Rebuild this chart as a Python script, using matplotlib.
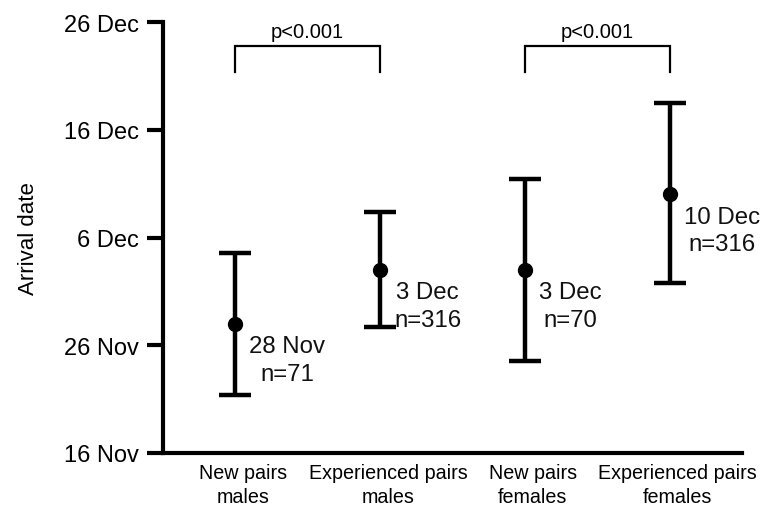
import matplotlib
matplotlib.use("Agg")
import matplotlib.pyplot as plt
import matplotlib.transforms as mtransforms

plt.rcParams['font.family'] = ['Liberation Sans', 'DejaVu Sans']

# ---- data (days after 16 Nov) ----
categories = ["New pairs\nmales", "Experienced pairs\nmales",
              "New pairs\nfemales", "Experienced pairs\nfemales"]
mean_day = [12, 17, 17, 24]
lower_day = [5.4, 11.7, 8.5, 15.8]
upper_day = [18.6, 22.4, 25.4, 32.5]
point_labels = ["28 Nov\nn=71", "3 Dec\nn=316", "3 Dec\nn=70", "10 Dec\nn=316"]
ytick_days = [0, 10, 20, 30, 40]
ytick_labels = ["16 Nov", "26 Nov", "6 Dec", "16 Dec", "26 Dec"]
comparisons = [(0, 1), (2, 3)]
comparison_text = ["p<0.001", "p<0.001"]
bracket_low, bracket_high = 35.4, 37.75

fig = plt.figure(figsize=(7.6, 5.06), dpi=100)
ax = fig.add_axes([163/760, 1-454/506, 579/760, 431/506])

x = list(range(len(categories)))
yerr = [[m - l for m, l in zip(mean_day, lower_day)],
        [u - m for m, u in zip(mean_day, upper_day)]]
ax.errorbar(x, mean_day, yerr=yerr, fmt='o', color='black', ms=10,
            elinewidth=3.2, capsize=11.5, capthick=3.2)

for xi, m, txt in zip(x, mean_day, point_labels):
    ax.annotate(txt, xy=(xi, m), xytext=(10, -26), textcoords='offset points',
                ha='left', va='center', multialignment='center',
                fontsize=17.3, linespacing=1.35, color='#111111')

for (a, b), txt in zip(comparisons, comparison_text):
    ax.plot([a, a, b, b], [bracket_low, bracket_high, bracket_high, bracket_low],
            color='black', lw=1.6, solid_joinstyle='miter')
    ax.annotate(txt, xy=((a + b) / 2, bracket_high), xytext=(0, 4),
                textcoords='offset points', ha='center', va='bottom', fontsize=14.5)

ax.set_xlim(-0.5, 3.5)
ax.set_ylim(0, 40)
ax.set_yticks(ytick_days)
ax.set_yticklabels(ytick_labels, fontsize=17)
ax.set_xticks(x)
ax.set_xticklabels(categories, fontsize=14.2, linespacing=1.3)
ax.tick_params(axis='y', length=11.5, width=3, pad=6, direction='out')
ax.tick_params(axis='x', length=0, pad=7.5)

offset = mtransforms.ScaledTranslation(8/100, 0, fig.dpi_scale_trans)
for lab in ax.get_xticklabels():
    lab.set_transform(lab.get_transform() + offset)

for s in ['top', 'right']:
    ax.spines[s].set_visible(False)
for s in ['left', 'bottom']:
    ax.spines[s].set_linewidth(3)

ax.set_ylabel("Arrival date", fontsize=16)
ax.yaxis.set_label_coords(-0.215, 0.5)

fig.savefig("out.png", dpi=100)
